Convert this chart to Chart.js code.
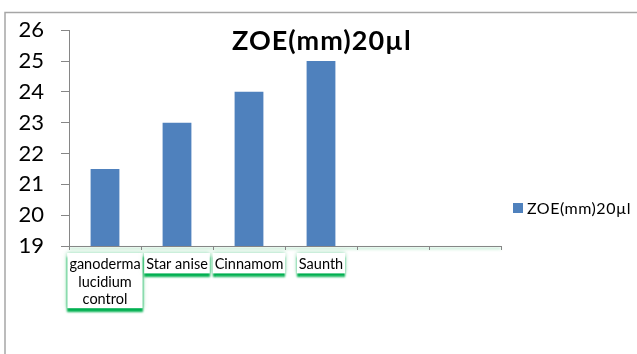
<!DOCTYPE html>
<html>
<head>
<meta charset="utf-8">
<script src="https://cdn.jsdelivr.net/npm/chart.js@4"></script>
<style>
  html, body { margin: 0; padding: 0; background: #fff; }
</style>
</head>
<body>
<canvas id="zoe" width="637" height="354"></canvas>
<script>
// data
var categories = [['ganoderma', 'lucidium', 'control'], 'Star anise', 'Cinnamom', 'Saunth', '', ''];
var zoeValues = [21.5, 23, 24, 25, null, null];
var seriesName = 'ZOE(mm)20µl';
var yMin = 19;
var yMax = 26;
var yStep = 1;

var barBlue = '#4f81bd';
var axisGrey = '#868686';

// frame, green label boxes, title and legend
var decorations = {
    id: 'decorations',
    beforeDraw: function (chart) {
        var ctx = chart.ctx;
        var x = chart.scales.x;
        var area = chart.chartArea;
        ctx.save();
        // outer frame (top and left edges)
        ctx.strokeStyle = '#a6a6a6';
        ctx.lineWidth = 1.5;
        ctx.beginPath();
        ctx.moveTo(5, 354);
        ctx.lineTo(5, 12.5);
        ctx.lineTo(637, 12.5);
        ctx.stroke();

        // soft green line under the category axis
        ctx.shadowColor = 'rgba(0,176,80,0.45)';
        ctx.shadowBlur = 3;
        ctx.shadowOffsetY = 2;
        ctx.strokeStyle = axisGrey;
        ctx.lineWidth = 1;
        ctx.beginPath();
        ctx.moveTo(area.left, area.bottom + 0.5);
        ctx.lineTo(area.right, area.bottom + 0.5);
        ctx.stroke();

        // white boxes with a green glow behind each category label
        var font = Chart.helpers.toFont(x.options.ticks.font);
        ctx.font = font.string;
        var firstTop = x.top + x.options.grid.tickLength + x.options.ticks.padding;
        ctx.fillStyle = '#fff';
        categories.forEach(function (label, i) {
            var lines = Array.isArray(label) ? label : [label];
            if (!lines.join('')) return;
            var w = 0;
            lines.forEach(function (l) { w = Math.max(w, ctx.measureText(l).width); });
            var cx = x.getPixelForTick(i);
            var bx = cx - w / 2 - 2, by = firstTop - 3;
            var bw = w + 4, bh = lines.length * font.lineHeight + 3;
            // faint glow all round
            ctx.shadowColor = 'rgba(0,176,80,0.5)';
            ctx.shadowBlur = 4;
            ctx.shadowOffsetY = 0;
            ctx.fillRect(bx, by, bw, bh);
            // strong band along the bottom
            ctx.shadowColor = 'rgba(0,176,80,1)';
            ctx.shadowBlur = 2;
            ctx.shadowOffsetY = 4;
            ctx.fillRect(bx, by, bw, bh);
        });
        ctx.restore();
    },
    afterDraw: function (chart) {
        var ctx = chart.ctx;
        ctx.save();
        ctx.fillStyle = '#000';
        ctx.textBaseline = 'middle';
        ctx.textAlign = 'left';
        ctx.letterSpacing = '1px';
        ctx.font = 'bold 27px Lato';
        ctx.fillText(seriesName, 232, 41);

        // legend
        ctx.fillStyle = chart.data.datasets[0].backgroundColor;
        ctx.fillRect(513, 203, 10, 10);
        ctx.fillStyle = '#000';
        ctx.letterSpacing = '0.5px';
        ctx.font = '16px Lato';
        ctx.fillText(seriesName, 527, 208.5);
        ctx.restore();
    }
};

var chart = new Chart(document.getElementById('zoe'), {
    type: 'bar',
    data: {
        labels: categories,
        datasets: [{
            label: seriesName,
            data: zoeValues,
            backgroundColor: barBlue,
            barPercentage: 0.8,
            categoryPercentage: 0.5
        }]
    },
    options: {
        responsive: false,
        animation: false,
        devicePixelRatio: 1,
        layout: { padding: { left: 0, top: 29, right: 136, bottom: 0 } },
        plugins: {
            legend: { display: false },
            tooltip: { enabled: false }
        },
        scales: {
            y: {
                min: yMin,
                max: yMax,
                afterFit: function (scale) { scale.width = 69; },
                border: { display: true, color: axisGrey },
                grid: { drawOnChartArea: false, drawTicks: true, tickLength: 8, color: axisGrey },
                ticks: {
                    stepSize: yStep,
                    color: '#000',
                    padding: 17,
                    font: { family: 'Lato', size: 22 }
                }
            },
            x: {
                afterFit: function (scale) { scale.height = 108; },
                border: { display: true, color: axisGrey },
                grid: { offset: true, drawOnChartArea: false, drawTicks: true, tickLength: 4, color: axisGrey },
                ticks: {
                    color: '#000',
                    padding: 6,
                    maxRotation: 0,
                    autoSkip: false,
                    font: { family: 'Lato', size: 14.5, lineHeight: 1.2 }
                }
            }
        }
    },
    plugins: [decorations]
});
</script>
</body>
</html>
